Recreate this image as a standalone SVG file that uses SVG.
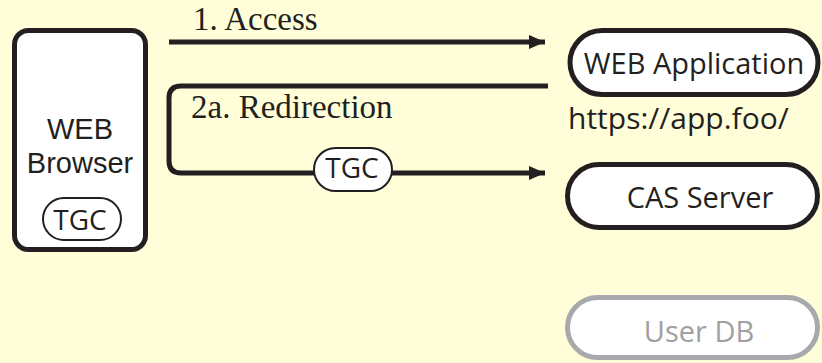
<svg xmlns="http://www.w3.org/2000/svg" width="822" height="363" viewBox="0 0 822 363">
  <defs>
    <marker id="arrow" viewBox="0 0 16 14" refX="16" refY="7" markerWidth="16" markerHeight="14" markerUnits="userSpaceOnUse" orient="auto">
      <path d="M0,0 L16,7 L0,14 Z" fill="#231f20"/>
    </marker>
    <style>
      .bg { fill: #fffed8; }
      .node { fill: #ffffff; stroke: #231f20; stroke-width: 5; }
      .node-dim { fill: #ffffff; stroke: #a7a9ac; stroke-width: 5; }
      .badge { fill: #ffffff; stroke: #231f20; stroke-width: 2; }
      .sans { font-family: "Open Sans", "Liberation Sans", sans-serif; fill: #231f20; }
      .serif { font-family: "Liberation Serif", serif; fill: #231f20; font-size: 33px; }
      .label { font-size: 29px; text-anchor: middle; }
      .stack { font-family: "Liberation Sans", Arial, sans-serif; font-size: 29px; }
      .token { font-size: 28px; text-anchor: middle; }
      .dim { fill: #a0a0a0; }
      .wire { fill: none; stroke: #231f20; stroke-width: 5; }
    </style>
  </defs>

  <rect class="bg" x="0" y="0" width="822" height="363"/>

  <!-- connectors -->
  <g id="connectors">
    <line class="wire" x1="169" y1="42" x2="545" y2="42" marker-end="url(#arrow)"/>
    <path class="wire" d="M548,86 H181 Q169,86 169,98 V161 Q169,173 181,173 H545" marker-end="url(#arrow)"/>
    <text class="serif" x="193" y="30">1. Access</text>
    <text class="serif" x="191" y="118">2a. Redirection</text>
    <g id="tgc-token">
      <rect class="badge" x="314" y="148" width="78" height="43" rx="21.5"/>
      <text class="sans token" x="352" y="178">TGC</text>
    </g>
  </g>

  <g id="browser">
    <rect class="node" x="14.5" y="30.5" width="131" height="219" rx="14"/>
    <text class="sans label stack" x="80" y="139">WEB</text>
    <text class="sans label stack" x="80" y="173">Browser</text>
    <rect class="badge" x="43" y="198" width="78" height="42" rx="21"/>
    <text class="sans token" x="80" y="230">TGC</text>
  </g>

  <g id="web-app">
    <rect class="node" x="570" y="30.5" width="248" height="64" rx="32"/>
    <text class="sans label" x="694" y="74">WEB Application</text>
    <text class="sans" x="568" y="129" font-size="30">https://app.foo/</text>
  </g>

  <g id="cas-server">
    <rect class="node" x="567.5" y="164.5" width="250" height="63" rx="31.5"/>
    <text class="sans label" x="700" y="208">CAS Server</text>
  </g>

  <g id="user-db">
    <rect class="node-dim" x="567.5" y="297.5" width="250" height="60" rx="30"/>
    <text class="sans label dim" x="699" y="342">User DB</text>
  </g>
</svg>
